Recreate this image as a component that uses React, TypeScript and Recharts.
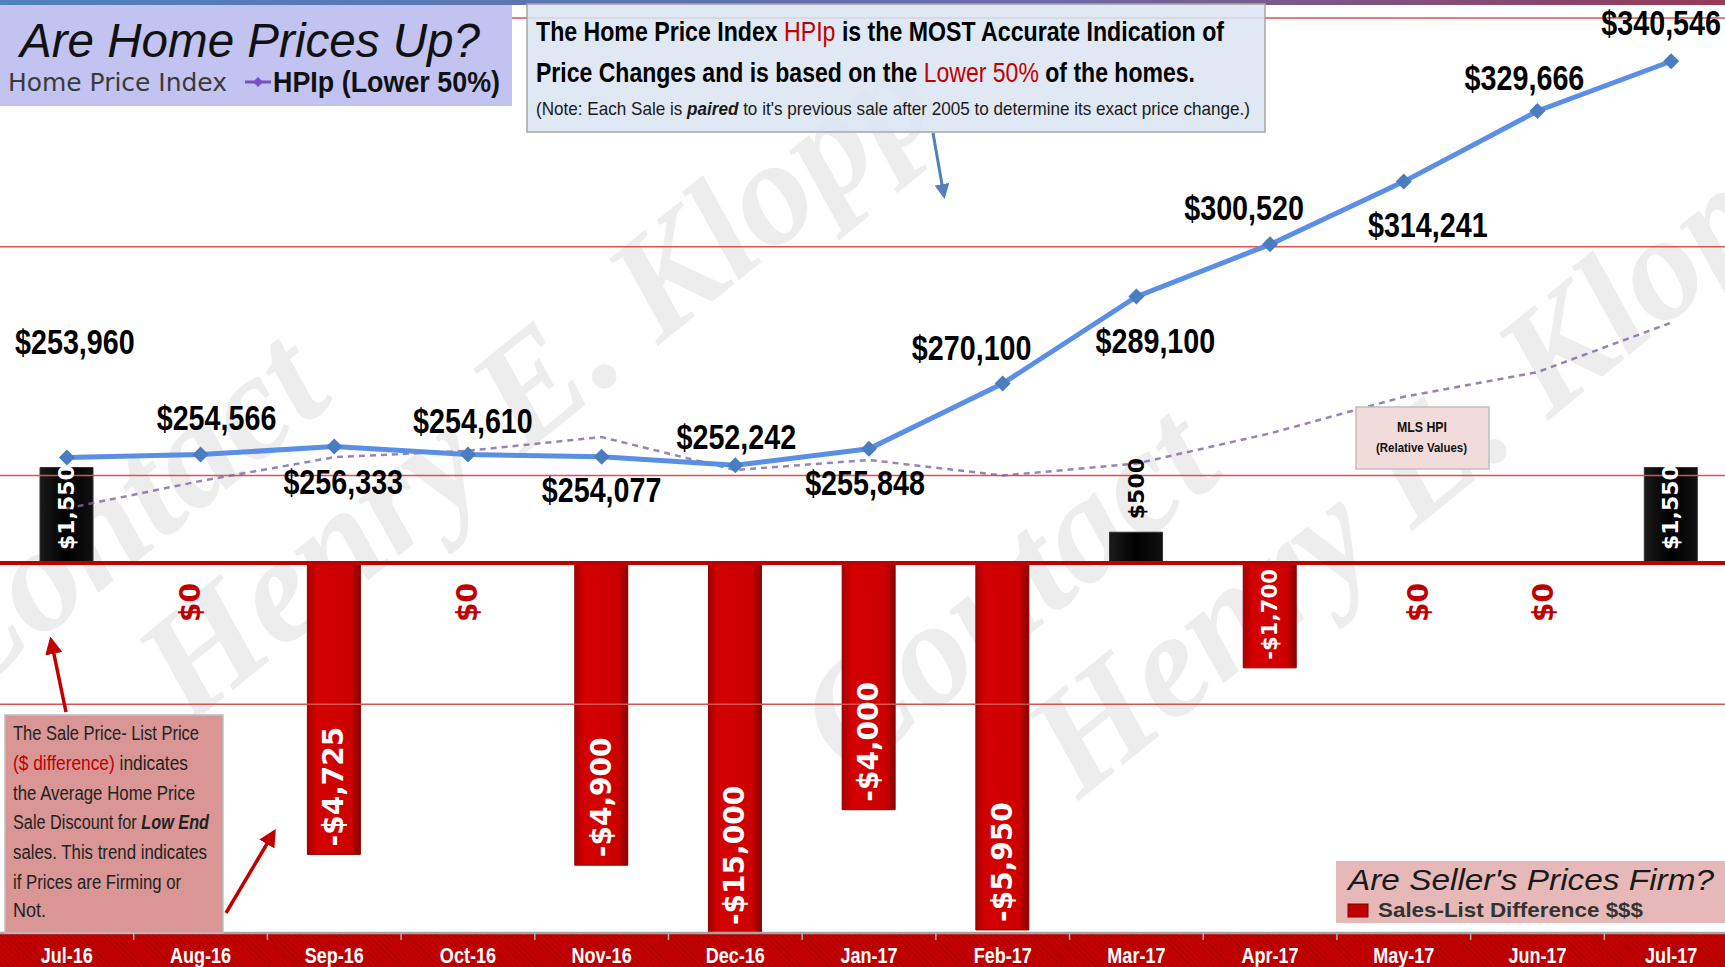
import React from "react";
import {
  ComposedChart,
  Bar,
  Line,
  XAxis,
  YAxis,
  ReferenceLine,
  LabelList,
  Cell,
} from "recharts";

// ── data ─────────────────────────────────────────────────────────────────────

const months = [
  "Jul-16", "Aug-16", "Sep-16", "Oct-16", "Nov-16", "Dec-16", "Jan-17",
  "Feb-17", "Mar-17", "Apr-17", "May-17", "Jun-17", "Jul-17",
];

/** HPIp (Lower 50%) */
const hpipLower50 = [
  253960, 254566, 256333, 254610, 254077, 252242, 255848,
  270100, 289100, 300520, 314241, 329666, 340546,
];

/** MLS HPI, relative values (index) */
const mlsHpiRelative = [
  46.4, 49.4, 52.0, 52.7, 54.2, 50.6, 51.7, 50.0, 51.3, 54.6, 58.6, 61.3, 66.7,
];

/** Sales-List Difference $$$ */
const salesListDiff = [
  1550, 0, -4725, 0, -4900, -15000, -4000, -5950, 500, -1700, 0, 0, 1550,
];

const hpiGridValues = [200000, 250000, 300000, 350000];

const data = months.map((month, i) => ({
  month,
  hpip: hpipLower50[i],
  mls: mlsHpiRelative[i],
  diff: salesListDiff[i],
}));

// HPIp value labels were hand-placed in the original: [dx, dy] from the point
const hpipLabelNudge: [number, number][] = [
  [8, -115], [16, -37], [9, 35], [5, -33], [0, 33], [1, -28], [-4, 34],
  [-31, -36], [19, 44], [-26, -36], [24, 43], [-13, -33], [-10, -38],
];

// "$0" labels were nudged sideways by hand too: dx per month
const zeroLabelNudge = [0, -10, 0, 0, 0, 0, 0, 0, 0, 0, 15, 6, 0];

// ── layout ───────────────────────────────────────────────────────────────────

const W = 1725;
const H = 967;
const CHART_W = 1738; // last band runs past the right edge in the original
const TOP = 18;
const AXIS_H = 34;
const PLOT_BOTTOM = H - AXIS_H;
const BAND = CHART_W / months.length;

const SANS = "'Liberation Sans', Arial, sans-serif";
const VERD = "'DejaVu Sans', Verdana, sans-serif";
const SERIF = "'Liberation Serif', 'DejaVu Serif', serif";
const SQUEEZE = 0.82; // no narrow face installed, so squeeze Liberation Sans

const fmtMoney = (v: number) =>
  (v < 0 ? "-$" : "$") + Math.abs(v).toLocaleString("en-US");

// ── marks ────────────────────────────────────────────────────────────────────

const DiamondDot = (props: any) => {
  const { cx, cy, index } = props;
  if (cx == null || cy == null) return <g key={`d${index}`} />;
  const r = 8;
  return (
    <polygon
      key={`d${index}`}
      points={`${cx},${cy - r} ${cx + r},${cy} ${cx},${cy + r} ${cx - r},${cy}`}
      fill="#4a7cc0"
    />
  );
};

const HpipLabel = (props: any) => {
  const { x, y, value } = props;
  const i = props.index ?? hpipLower50.indexOf(value);
  const [dx, dy] = hpipLabelNudge[i] ?? [0, -36];
  return (
    <text
      transform={`translate(${x + dx},${y + dy + 12}) scale(${SQUEEZE},1)`}
      textAnchor="middle"
      fontFamily={SANS}
      fontWeight="bold"
      fontSize={35}
      fill="#000"
    >
      {fmtMoney(value)}
    </text>
  );
};

const labelFont = {
  fontFamily: VERD,
  fontWeight: "bold" as const,
  dominantBaseline: "central" as const,
};

const DiffLabel = (props: any) => {
  const { x, y, width, height, value } = props;
  if (x == null || y == null || !value) return null;
  const cx = x + width / 2;
  const top = Math.min(y, y + height);
  const bottom = Math.min(Math.max(y, y + height), PLOT_BOTTOM);
  const text = fmtMoney(value);

  if (value < 0) {
    const fs = Math.min(28, (bottom - top - 14) / (0.61 * text.length));
    return (
      <text
        transform={`translate(${cx},${bottom - 8}) rotate(-90)`}
        textAnchor="start"
        fontSize={fs}
        fill="#fff"
        {...labelFont}
      >
        {text}
      </text>
    );
  }
  const len = text.length * 0.64 * 22;
  const inside = bottom - top >= len + 10;
  return (
    <text
      transform={`translate(${cx},${(inside ? bottom : top) - 13}) rotate(-90)`}
      textAnchor="start"
      fontSize={22}
      fill={inside ? "#fff" : "#000"}
      {...labelFont}
    >
      {text}
    </text>
  );
};

// zero differences have no bar, so their "$0" sits just under the zero line
const ZeroLabel = (props: any) => {
  const { x, y, value, index } = props;
  if (x == null || y == null || value !== 0) return null;
  const dx = zeroLabelNudge[index] ?? 0;
  return (
    <text
      transform={`translate(${x + dx},${y + 20}) rotate(-90)`}
      textAnchor="end"
      fontSize={28}
      fill="#c00000"
      {...labelFont}
    >
      {fmtMoney(value)}
    </text>
  );
};

const MonthTick = (props: any) => {
  const { x, payload, index } = props;
  return (
    <g>
      {index < months.length - 1 && (
        <line
          x1={x + BAND / 2}
          x2={x + BAND / 2}
          y1={PLOT_BOTTOM}
          y2={PLOT_BOTTOM + 7}
          stroke="#b0b0b0"
          strokeWidth={1.5}
        />
      )}
      <text
        transform={`translate(${x},${PLOT_BOTTOM + 30}) scale(${SQUEEZE},1)`}
        textAnchor="middle"
        fontFamily={SANS}
        fontWeight="bold"
        fontSize={22}
        fill="#fff"
      >
        {payload.value}
      </text>
    </g>
  );
};

// ── annotations (boxes, arrows) ──────────────────────────────────────────────

const Watermark = () => (
  <svg width={W} height={H} style={{ position: "absolute", left: 0, top: 0 }}>
    <defs>
      <linearGradient id="topStrip" x1="0" x2="1" y1="0" y2="0">
        <stop offset="0%" stopColor="#4f81bd" />
        <stop offset="60%" stopColor="#6a6aa8" />
        <stop offset="100%" stopColor="#953a55" />
      </linearGradient>
    </defs>
    <rect x={0} y={0} width={W} height={5} fill="url(#topStrip)" />
    {[
      [-40, 705],
      [850, 780],
    ].map(([tx, ty], k) => (
      <g
        key={k}
        transform={`translate(${tx},${ty}) rotate(-39)`}
        fontFamily={SERIF}
        fontStyle="italic"
        fontWeight="bold"
        fontSize={150}
        fill="#ededed"
      >
        <text x={0} y={0}>Contact</text>
        <text x={165} y={160}>Henry E. Klopp</text>
      </g>
    ))}
  </svg>
);

const Overlay = () => (
  <svg
    width={W}
    height={H}
    style={{ position: "absolute", left: 0, top: 0, pointerEvents: "none" }}
  >
    <defs>
      <marker id="arrowBlue" viewBox="0 0 10 10" refX="8" refY="5" markerWidth="5" markerHeight="5" orient="auto">
        <path d="M0,0 L10,5 L0,10 z" fill="#4f81bd" />
      </marker>
      <marker id="arrowRed" viewBox="0 0 10 10" refX="8" refY="5" markerWidth="5" markerHeight="5" orient="auto">
        <path d="M0,0 L10,5 L0,10 z" fill="#c00000" />
      </marker>
    </defs>

    {/* title box */}
    <rect x={0} y={5} width={512} height={101} fill="#c2c3f1" />
    <text x={20} y={57} fontFamily={SANS} fontStyle="italic" fontSize={48} fill="#111"
      textLength={460} lengthAdjust="spacingAndGlyphs">
      Are Home Prices Up?
    </text>
    <text x={8} y={91} fontFamily={VERD} fontSize={25} fill="#3a3a3a"
      textLength={219} lengthAdjust="spacingAndGlyphs">
      Home Price Index
    </text>
    <line x1={245} x2={271} y1={82} y2={82} stroke="#7a4fc0" strokeWidth={3} />
    <polygon points="258,77 263,82 258,87 253,82" fill="#7a4fc0" />
    <text x={273} y={92} fontFamily={SANS} fontWeight="bold" fontSize={30} fill="#111"
      textLength={227} lengthAdjust="spacingAndGlyphs">
      HPIp (Lower 50%)
    </text>

    {/* explanation box */}
    <rect x={527} y={4} width={738} height={128} fill="#dbe5f1" fillOpacity={0.88}
      stroke="#a6a6a6" strokeWidth={1.5} />
    <text x={536} y={41} fontFamily={SANS} fontWeight="bold" fontSize={28} fill="#000"
      textLength={688} lengthAdjust="spacingAndGlyphs">
      The Home Price Index{" "}
      <tspan fill="#c00000" fontWeight="normal">HPIp</tspan> is the MOST Accurate Indication of
    </text>
    <text x={536} y={82} fontFamily={SANS} fontWeight="bold" fontSize={28} fill="#000"
      textLength={659} lengthAdjust="spacingAndGlyphs">
      Price Changes and is based on the{" "}
      <tspan fill="#c00000" fontWeight="normal">Lower 50%</tspan> of the homes.
    </text>
    <text x={536} y={115} fontFamily={SANS} fontSize={19} fill="#1a1a1a"
      textLength={714} lengthAdjust="spacingAndGlyphs">
      (Note: Each Sale is{" "}
      <tspan fontStyle="italic" fontWeight="bold">paired</tspan> to it's previous sale after
      2005 to determine its exact price change.)
    </text>
    <line x1={933} y1={133} x2={944} y2={196} stroke="#4f81bd" strokeWidth={3}
      markerEnd="url(#arrowBlue)" />

    {/* MLS HPI tag */}
    <rect x={1356} y={407} width={133} height={62} fill="#f2dcdb" stroke="#bfbfbf" strokeWidth={1.5} />
    <text x={1397} y={432} fontFamily={SANS} fontWeight="bold" fontSize={15} fill="#111"
      textLength={50} lengthAdjust="spacingAndGlyphs">
      MLS HPI
    </text>
    <text x={1376} y={452} fontFamily={SANS} fontWeight="bold" fontSize={12} fill="#111"
      textLength={91} lengthAdjust="spacingAndGlyphs">
      (Relative Values)
    </text>

    {/* discount explanation */}
    <line x1={66} y1={712} x2={51} y2={640} stroke="#c00000" strokeWidth={3.5}
      markerEnd="url(#arrowRed)" />
    <line x1={226} y1={913} x2={274} y2={832} stroke="#c00000" strokeWidth={3.5}
      markerEnd="url(#arrowRed)" />
    <rect x={5} y={715} width={218} height={218} fill="#d99694" stroke="#bfbfbf" strokeWidth={1.5} />
    <g fontFamily={SANS} fontSize={20} fill="#222">
      <text x={13} y={740} textLength={186} lengthAdjust="spacingAndGlyphs">The  Sale Price- List Price</text>
      <text x={13} y={770} textLength={175} lengthAdjust="spacingAndGlyphs">
        <tspan fill="#c00000">($ difference)</tspan> indicates
      </text>
      <text x={13} y={800} textLength={182} lengthAdjust="spacingAndGlyphs">the Average Home Price</text>
      <text x={13} y={829} textLength={196} lengthAdjust="spacingAndGlyphs">
        Sale Discount  for <tspan fontStyle="italic" fontWeight="bold">Low End</tspan>
      </text>
      <text x={13} y={859} textLength={194} lengthAdjust="spacingAndGlyphs">sales. This trend indicates</text>
      <text x={13} y={889} textLength={168} lengthAdjust="spacingAndGlyphs">if Prices are Firming  or</text>
      <text x={13} y={917} textLength={33} lengthAdjust="spacingAndGlyphs">Not.</text>
    </g>

    {/* bar legend */}
    <rect x={1336} y={861} width={392} height={62} fill="#e6b9b8" />
    <text x={1348} y={890} fontFamily={SANS} fontStyle="italic" fontSize={30} fill="#1a1a1a"
      textLength={366} lengthAdjust="spacingAndGlyphs">
      Are Seller's Prices Firm?
    </text>
    <rect x={1348} y={904} width={20} height={13} fill="#c00000" stroke="#800000" />
    <text x={1378} y={917} fontFamily={SANS} fontWeight="bold" fontSize={21} fill="#333"
      textLength={265} lengthAdjust="spacingAndGlyphs">
      Sales-List Difference $$$
    </text>
  </svg>
);

// ── chart ────────────────────────────────────────────────────────────────────

export default function App() {
  return (
    <div
      style={{
        position: "absolute",
        left: 0,
        top: 0,
        width: W,
        height: H,
        overflow: "hidden",
        background: "#fff",
      }}
    >
      <Watermark />
      <div
        style={{
          position: "absolute",
          left: 0,
          top: PLOT_BOTTOM,
          width: W,
          height: AXIS_H,
          background:
            "repeating-linear-gradient(45deg, #c40000 0px, #c40000 2px, #b50000 2px, #b50000 4px)",
        }}
      />
      <div style={{ position: "absolute", left: 0, top: 0 }}>
        <ComposedChart
          width={CHART_W}
          height={H}
          data={data}
          margin={{ top: TOP, right: 0, bottom: 0, left: 0 }}
        >
          <defs>
            <linearGradient id="redBar" x1="0" x2="1" y1="0" y2="0">
              <stop offset="0%" stopColor="#a80000" />
              <stop offset="18%" stopColor="#d40000" />
              <stop offset="82%" stopColor="#cc0000" />
              <stop offset="100%" stopColor="#880000" />
            </linearGradient>
            <linearGradient id="blackBar" x1="0" x2="1" y1="0" y2="0">
              <stop offset="0%" stopColor="#1a1a1a" />
              <stop offset="50%" stopColor="#000" />
              <stop offset="100%" stopColor="#111" />
            </linearGradient>
          </defs>
          <XAxis
            dataKey="month"
            height={AXIS_H}
            interval={0}
            tickLine={false}
            axisLine={{ stroke: "#a6a6a6", strokeWidth: 2.5 }}
            tick={MonthTick}
          />
          <YAxis yAxisId="hpi" hide domain={[150000, 350000]} allowDataOverflow />
          <YAxis yAxisId="diff" hide domain={[-6000, 8840]} allowDataOverflow />
          <YAxis yAxisId="mls" hide domain={[0, 100]} allowDataOverflow />

          {hpiGridValues.map((v) => (
            <ReferenceLine
              key={v}
              yAxisId="hpi"
              y={v}
              stroke="#d9534f"
              strokeWidth={1.5}
            />
          ))}

          <Line
            yAxisId="mls"
            dataKey="mls"
            stroke="#8064a2"
            strokeOpacity={0.8}
            strokeWidth={2.5}
            strokeDasharray="6 5"
            dot={false}
            activeDot={false}
            isAnimationActive={false}
          />

          <Bar
            yAxisId="diff"
            dataKey="diff"
            barSize={53}
            isAnimationActive={false}
          >
            {data.map((d, i) => (
              <Cell
                key={i}
                fill={d.diff >= 0 ? "url(#blackBar)" : "url(#redBar)"}
                stroke={d.diff >= 0 ? "#333" : "#900000"}
                strokeWidth={1}
              />
            ))}
            <LabelList dataKey="diff" content={DiffLabel} />
          </Bar>

          {/* carrier for the "$0" labels only; draws no line */}
          <Line
            yAxisId="diff"
            dataKey="diff"
            stroke="none"
            dot={false}
            activeDot={false}
            isAnimationActive={false}
          >
            <LabelList dataKey="diff" content={ZeroLabel} />
          </Line>

          <ReferenceLine yAxisId="diff" y={0} stroke="#c00000" strokeWidth={4} />

          <Line
            yAxisId="hpi"
            dataKey="hpip"
            stroke="#5b8fe6"
            strokeWidth={5}
            dot={DiamondDot}
            activeDot={false}
            isAnimationActive={false}
          >
            <LabelList dataKey="hpip" content={HpipLabel} />
          </Line>
        </ComposedChart>
      </div>
      <Overlay />
    </div>
  );
}
